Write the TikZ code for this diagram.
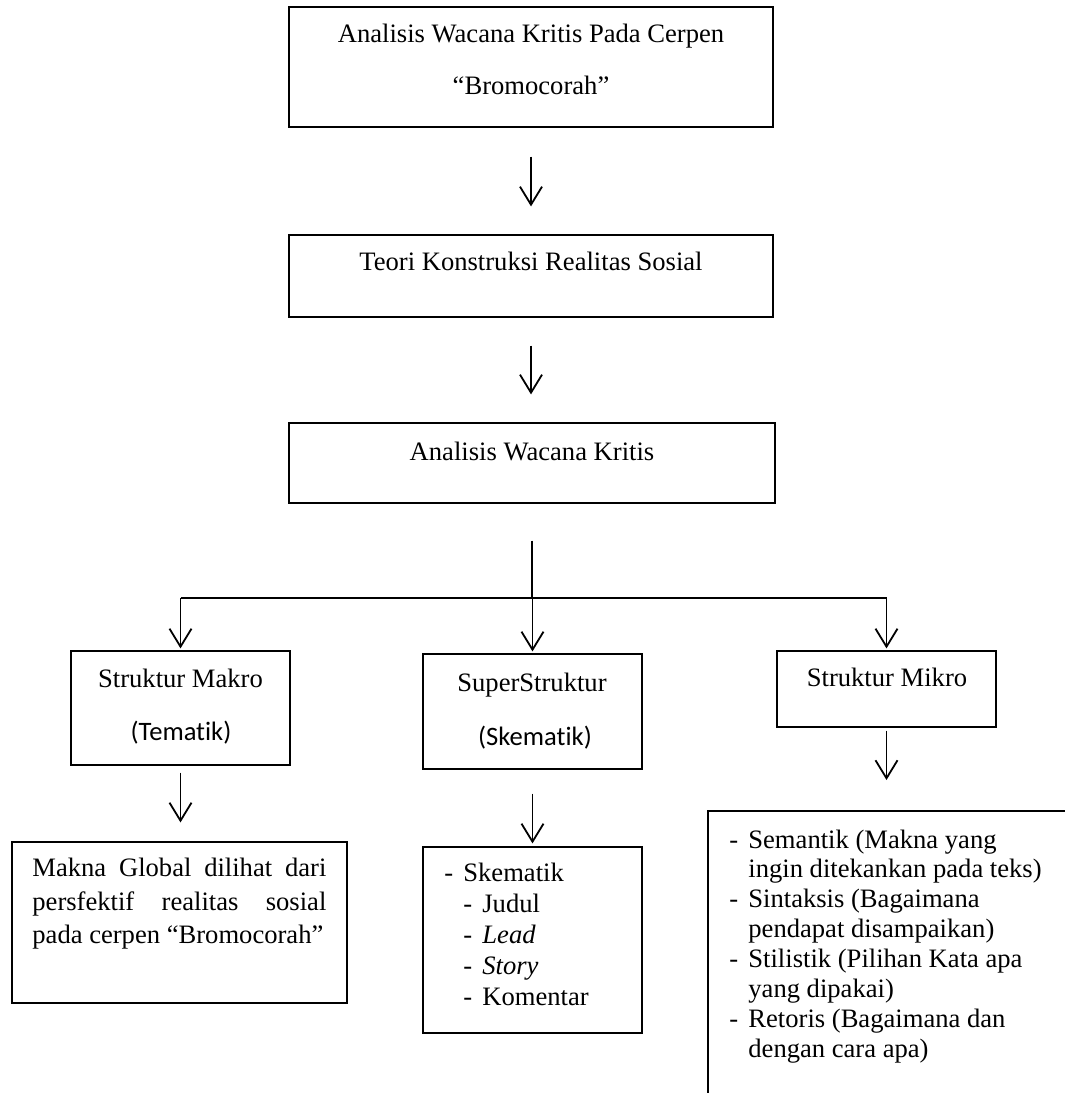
\documentclass[tikz,border=0pt]{standalone}
\usepackage{fontspec}
\setmainfont{Liberation Serif}
\newfontfamily\sanstxt[Ligatures=NoCommon]{Carlito}
\usetikzlibrary{arrows.meta,fit}

\newcommand{\butir}{\makebox[9.5pt][l]{-}}
\newcommand{\inden}{\hspace*{9.5pt}}

\tikzset{
    kotak/.style={draw, line width=0.6pt, inner sep=0pt},
    teks/.style={anchor=base, inner sep=0pt, font=\fontsize{13.3}{16}\selectfont},
    teksSans/.style={teks, font={\sanstxt\fontsize{13.3}{16}\selectfont}},
    teksKiri/.style={teks, anchor=base west},
    garis/.style={line width=0.9pt},
    panah/.style={garis, -{Straight Barb[length=9pt,width=11pt]}}
}

\begin{document}
\begin{tikzpicture}[x=0.5pt, y=-0.5pt]
    \useasboundingbox (0, 0) rectangle (1065, 1093);
    \node[kotak, fit={(289, 7) (773, 127)}] (judul) {};
    \node[kotak, fit={(289, 235) (773, 317)}] (teori) {};
    \node[kotak, fit={(289, 423) (775, 503)}] (awk) {};
    \node[kotak, fit={(71, 651) (290, 765)}] (makro) {};
    \node[kotak, fit={(423, 654) (642, 769)}] (super) {};
    \node[kotak, fit={(777, 651) (996, 727)}] (mikro) {};
    \node[kotak, fit={(12, 842) (347, 1003)}] (makna) {};
    \node[kotak, fit={(423, 847) (642, 1033)}] (skema) {};
    \coordinate (mikroisi) at (708, 811);
    \draw[kotak] (708, 1093) -- (mikroisi) -- (1065, 811);

    \node[teks] (judul1) at (531, 42) {Analisis Wacana Kritis Pada Cerpen};
    \node[teks] (judul2) at (531, 94) {“Bromocorah”};
    \node[teks] (teori1) at (531, 270) {Teori Konstruksi Realitas Sosial};
    \node[teks] (awk1) at (532, 460) {Analisis Wacana Kritis};
    \node[teks] (makro1) at (180.5, 687) {Struktur Makro};
    \node[teksSans] (makro2) at (181, 740) {(Tematik)};
    \node[teks] (super1) at (532, 691) {SuperStruktur};
    \node[teksSans] (super2) at (535, 745) {(Skematik)};
    \node[teks] (mikro1) at (887, 686) {Struktur Mikro};

    \node[teksKiri] (makna1) at (32, 876) {\makebox[147pt][s]{Makna Global dilihat dari}};
    \node[teksKiri] (makna2) at (32, 910) {\makebox[147pt][s]{persfektif realitas sosial}};
    \node[teksKiri] (makna3) at (32, 943) {pada cerpen “Bromocorah”};

    \path
        \foreach \t [count=\i] in {
            {\butir Skematik},
            {\inden\butir Judul},
            {\inden\butir\textit{Lead}},
            {\inden\butir\textit{Story}},
            {\inden\butir Komentar}
        } {
            (444, {881 + 31*(\i - 1)}) node[teksKiri] (skema\i) {\t}
        };
    \path
        \foreach \t [count=\i] in {
            {\butir Semantik (Makna yang},
            {\inden ingin ditekankan pada teks)},
            {\butir Sintaksis (Bagaimana},
            {\inden pendapat disampaikan)},
            {\butir Stilistik (Pilihan Kata apa},
            {\inden yang dipakai)},
            {\butir Retoris (Bagaimana dan},
            {\inden dengan cara apa)}
        } {
            (729, {848 + 29.9*(\i - 1)}) node[teksKiri] (mikroisi\i) {\t}
        };

    \draw[panah, shorten <=14.5pt, shorten >=14pt] (judul) -- (teori);
    \draw[panah, shorten <=14pt, shorten >=14pt] (teori.south) -- (teori.south |- awk.north);
    \coordinate (cabang) at (532, 598);
    \draw[garis, shorten <=18.5pt] (awk.south) -- (cabang);
    \draw[garis] (makro.north |- cabang) -- (mikro.north |- cabang);
    \foreach \b in {makro, super, mikro}
        \draw[panah, shorten >=1pt] (\b.north |- cabang) -- (\b.north);
    \draw[panah, shorten <=3.5pt, shorten >=9.5pt] (makro.south) -- (makro.south |- makna.north);
    \draw[panah, shorten <=12pt, shorten >=1.5pt] (super.south) -- (super.south |- skema.north);
    \draw[panah, shorten <=1.5pt, shorten >=15.5pt] (mikro.south) -- (mikro.south |- mikroisi);
\end{tikzpicture}
\end{document}
